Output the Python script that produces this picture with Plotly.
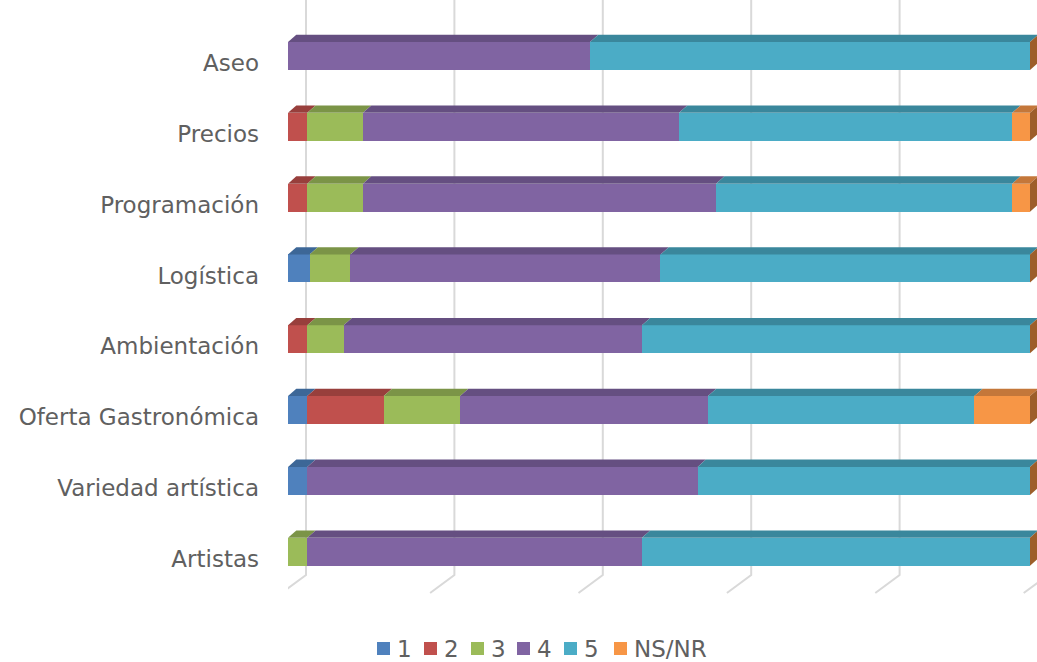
import plotly.graph_objects as go

categories = ["Artistas", "Variedad artística", "Oferta Gastronómica", "Ambientación",
              "Logística", "Programación", "Precios", "Aseo"]
series_names = ["1", "2", "3", "4", "5", "NS/NR"]
s1 = [0.0, 2.6, 2.6, 0.0, 2.9, 0.0, 0.0, 0.0]
s2 = [0.0, 0.0, 10.3, 2.6, 0.0, 2.6, 2.6, 0.0]
s3 = [2.6, 0.0, 10.3, 4.9, 5.5, 7.5, 7.5, 0.0]
s4 = [45.1, 52.6, 33.4, 40.2, 41.8, 47.6, 42.6, 40.7]
s5 = [52.3, 44.8, 35.9, 52.3, 49.8, 39.9, 44.9, 59.3]
s6 = [0.0, 0.0, 7.5, 0.0, 0.0, 2.4, 2.4, 0.0]
series_values = [s1, s2, s3, s4, s5, s6]
grid_ticks = [0, 20, 40, 60, 80, 100]

front_colors = ["#4F81BD", "#C0504D", "#9BBB59", "#8064A2", "#4BACC6", "#F79646"]
top_colors = ["#3D6797", "#983F3C", "#7B9447", "#654F81", "#3A879C", "#C4773A"]
side_color = "#9D5E2A"
text_color = "#606060"
FONT = "DejaVu Sans"
FS = 23

# pixel geometry
px_per_x = 7.42
px_per_y = 70.81
ML, MT, MB = 288, 0, 62
W, H = 1037, 662
plot_w = W - ML
plot_h = H - MT - MB
x_max = plot_w / px_per_x
y_top = 7 + 56 / px_per_y
y_bot = 0 - (plot_h - 551.7) / px_per_y
bar_w = 28 / px_per_y
ddx, ddy = 8.3 / px_per_x, 7.3 / px_per_y
y_pos = list(range(len(categories)))


def px_to_paper_x(px):
    return (px - ML) / plot_w


def px_to_paper_y(py):
    return 1 - (py - MT) / plot_h


fig = go.Figure()
for name, vals, col in zip(series_names, series_values, front_colors):
    fig.add_trace(go.Bar(y=y_pos, x=vals, name=name, orientation="h",
                         marker=dict(color=col, line=dict(width=0)),
                         width=bar_w, hoverinfo="skip", showlegend=False))

shapes = []
# back-wall gridlines with floor slants
g_off = 18 / px_per_x
floor_y = 0 - (575 - 551.7) / px_per_y
for t in grid_ticks:
    gx = t + g_off
    shapes.append(dict(type="path", xref="x", yref="y", layer="below",
                       path=f"M{gx},{y_top + 1} L{gx},{floor_y} L{gx - 24.3 / px_per_x},{floor_y - 18 / px_per_y}",
                       line=dict(color="#D9D9D9", width=2)))

# top faces and end side face
for i in y_pos:
    yt = i + bar_w / 2
    yb = i - bar_w / 2
    cum = 0.0
    for k, vals in enumerate(series_values):
        v = vals[i]
        if v > 0:
            x0, x1 = cum, cum + v
            shapes.append(dict(type="path", xref="x", yref="y", layer="above",
                               path=f"M{x0},{yt} L{x1},{yt} L{x1 + ddx},{yt + ddy} L{x0 + ddx},{yt + ddy} Z",
                               fillcolor=top_colors[k], line=dict(width=0)))
        cum += v
    shapes.append(dict(type="path", xref="x", yref="y", layer="above",
                       path=f"M{cum},{yb} L{cum},{yt} L{cum + ddx},{yt + ddy} L{cum + ddx},{yb + ddy} Z",
                       fillcolor=side_color, line=dict(width=0)))

# manual legend (squares + texts)
legend_marker_px = [377, 424, 471, 517, 564, 614]
legend_y_px = 648.5
annotations = []
for name, col, mx in zip(series_names, front_colors, legend_marker_px):
    shapes.append(dict(type="rect", xref="paper", yref="paper",
                       x0=px_to_paper_x(mx), x1=px_to_paper_x(mx + 13),
                       y0=px_to_paper_y(legend_y_px + 6.5), y1=px_to_paper_y(legend_y_px - 6.5),
                       fillcolor=col, line=dict(width=0)))
    annotations.append(dict(xref="paper", yref="paper", x=px_to_paper_x(mx + 18),
                            y=px_to_paper_y(legend_y_px), text=name, showarrow=False,
                            xanchor="left", yanchor="middle",
                            font=dict(family=FONT, size=FS, color=text_color)))

fig.update_layout(
    barmode="stack",
    width=W, height=H,
    margin=dict(l=ML, r=0, t=MT, b=MB, autoexpand=False),
    paper_bgcolor="white", plot_bgcolor="white",
    shapes=shapes,
    annotations=annotations,
    showlegend=False,
    hovermode=False,
    font=dict(family=FONT, color=text_color, size=FS),
    xaxis=dict(range=[0, x_max], showgrid=False, zeroline=False, showticklabels=False,
               showline=False, fixedrange=True),
    yaxis=dict(range=[y_bot, y_top], tickvals=[p - 0.1 for p in y_pos], ticktext=categories,
               showgrid=False, zeroline=False, showline=False, ticks="", fixedrange=True,
               ticklabelstandoff=28, tickfont=dict(family=FONT, size=FS, color=text_color)),
    bargap=0,
)
fig.write_html("out.html", config={"displayModeBar": False},
               post_script="document.body.style.margin='0px';")
